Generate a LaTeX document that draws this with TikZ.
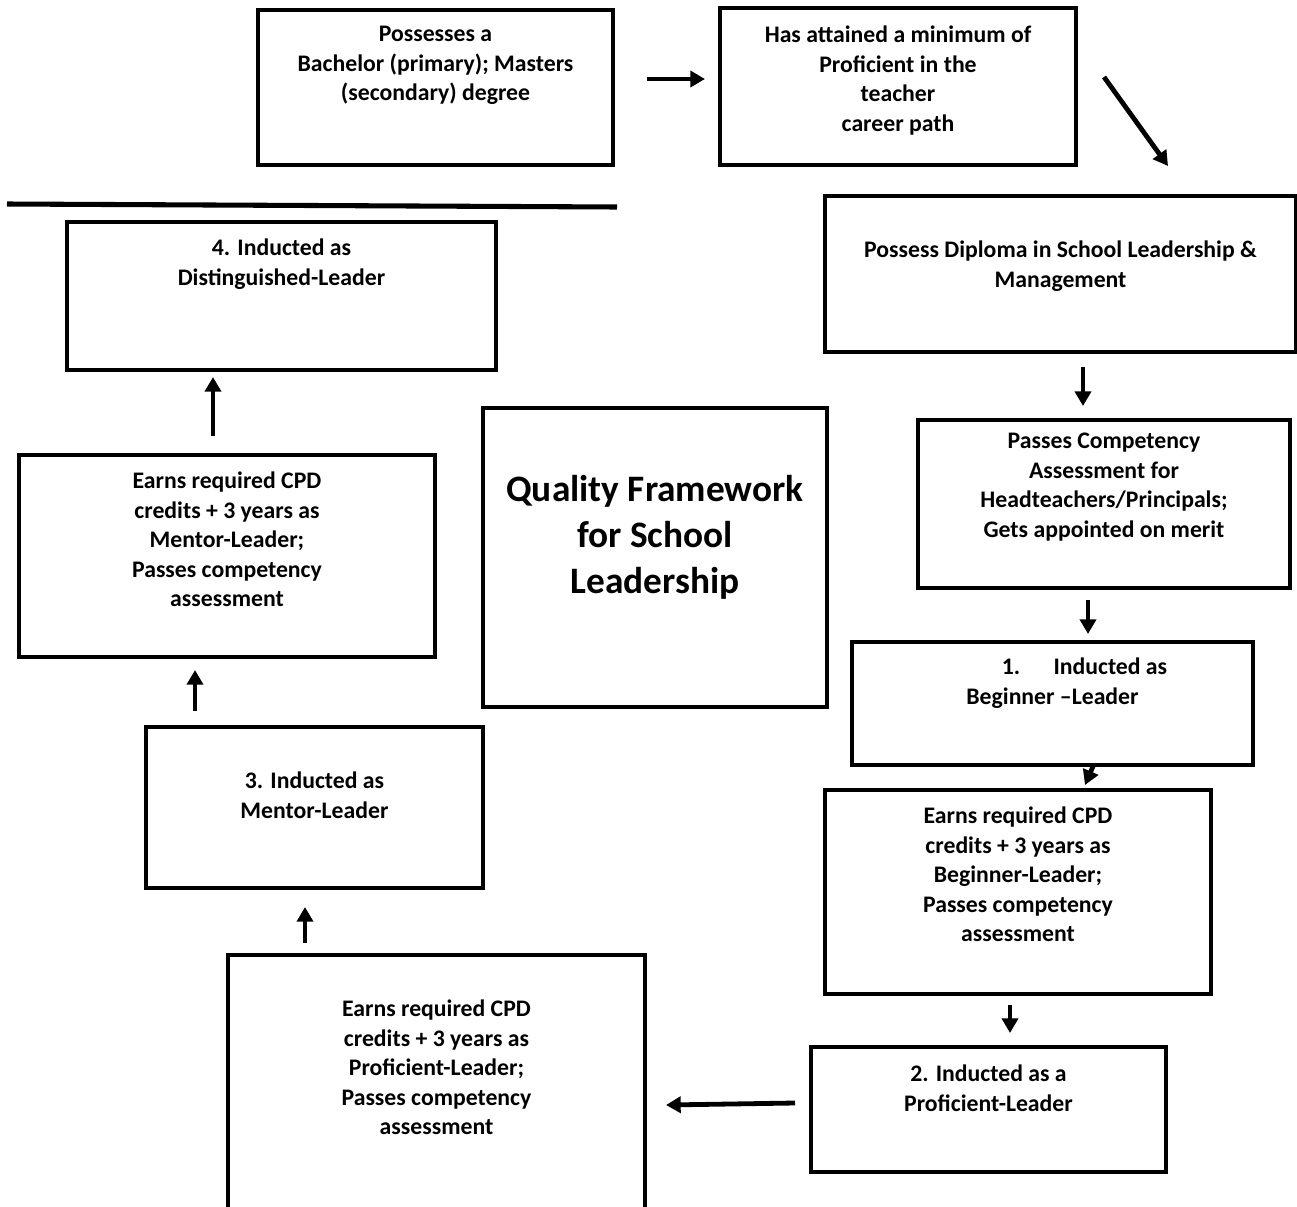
\documentclass[tikz,border=0pt]{standalone}
\usepackage{fontspec}
\setmainfont{Carlito}
\usetikzlibrary{arrows.meta,positioning,fit,calc}

\begin{document}
\begin{tikzpicture}[
    x=0.75pt, y=-0.75pt,
    box/.style={draw, line width=3pt, inner sep=0pt},
    txt/.style={anchor=north, align=center, inner sep=0pt,
      font={\fontsize{17.8}{22.1}\selectfont\bfseries}},
    ttl/.style={align=center, inner sep=0pt,
      font={\fontsize{28}{34.5}\selectfont\bfseries}},
    arr/.style={-{Triangle[length=11pt,width=12pt]}, line width=3.6pt}
  ]
    \useasboundingbox (0,0) rectangle (1297,1207);

    % boxes
    \node[box, fit={(258,10) (613,165)}] (bach) {};
    \node[box, fit={(720,8) (1076,165)}] (prof) {};
    \node[box, fit={(825,196) (1296,352)}] (diplo) {};
    \node[box, fit={(918,420) (1290,588)}] (comp) {};
    \node[box, fit={(852,642) (1253,765)}] (beg) {};
    \node[box, fit={(825,790) (1211,994)}] (earnB) {};
    \node[box, fit={(811,1047) (1166,1172)}] (prl) {};
    \node[box, fit={(228,955) (645,1212)}] (earnP) {};
    \node[box, fit={(146,727) (483,888)}] (men) {};
    \node[box, fit={(19,455) (435,657)}] (earnM) {};
    \node[box, fit={(67,222) (496,370)}] (dist) {};
    \node[box, fit={(483,408) (827,707)}] (qual) {};

    % texts
    \node[txt] (bach-t) at ($(bach.north)+(0,18)$) {Possesses a\\Bachelor (primary); Masters\\(secondary) degree};
    \node[txt] (prof-t) at ($(prof.north)+(0,20)$) {Has attained a minimum of\\Proficient in the\\teacher\\career path};
    \node[txt] (diplo-t) at ($(diplo.north)+(0,47)$) {Possess Diploma in School Leadership \&\\Management};
    \node[txt] (comp-t) at ($(comp.north)+(0,15)$) {Passes Competency\\Assessment for\\Headteachers/Principals;\\Gets appointed on merit};
    \node[txt] (beg-t) at ($(beg.north)+(0,18)$) {\hspace*{2.7em}1.\hspace{1.4em}Inducted as\\Beginner --Leader};
    \node[txt] (earnB-t) at ($(earnB.north)+(0,19)$) {Earns required CPD\\credits + 3 years as\\Beginner-Leader;\\Passes competency\\assessment};
    \node[txt] (prl-t) at ($(prl.north)+(0,20)$) {2. Inducted as a\\Proficient-Leader};
    \node[txt] (earnP-t) at ($(earnP.north)+(0,47)$) {Earns required CPD\\credits + 3 years as\\Proficient-Leader;\\Passes competency\\assessment};
    \node[txt] (men-t) at ($(men.north)+(0,47)$) {3. Inducted as\\Mentor-Leader};
    \node[txt] (earnM-t) at ($(earnM.north)+(0,19)$) {Earns required CPD\\credits + 3 years as\\Mentor-Leader;\\Passes competency\\assessment};
    \node[txt] (dist-t) at ($(dist.north)+(0,19)$) {4. Inducted as\\Distinguished-Leader};
    \node[ttl] (qual-t) at (655,537) {Quality Framework\\for School\\Leadership};

    % rule under the top row
    \coordinate (ruleL) at (7,204);
    \coordinate (ruleR) at (617,207);
    \draw[line width=3.8pt] (ruleL) -- (ruleR);

    % arrows
    \draw[arr] ($(bach.east)+(32,-8.5)$) -- ($(prof.west)+(-13,-7.5)$);
    \draw[arr] ($(prof.east)+(26,-9.5)$) -- ($(diplo.north)+(107.5,-28)$);
    \draw[arr] ($(diplo.south)+(22.5,13)$) -- ($(comp.north)+(-21,-12)$);
    \draw[arr] ($(comp.south)+(-16,10)$) -- ($(beg.north)+(35.5,-6)$);
    \draw[arr] ($(beg.south)+(41.5,-3)$) -- ($(earnB.north)+(67,-3)$);
    \draw[arr] ($(earnB.south)+(-8,9)$) -- ($(prl.north)+(21.5,-12)$);
    \draw[arr] ($(prl.west)+(-14,-6.5)$) -- ($(earnP.east)+(19,21.5)$);
    \draw[arr] ($(earnP.north)+(-131.5,-10)$) -- ($(men.south)+(-9.5,17)$);
    \draw[arr] ($(men.north)+(-119.5,-14)$) -- ($(earnM.south)+(-32,11)$);
    \draw[arr] ($(earnM.north)+(-14,-17)$) -- ($(dist.south)+(-68.5,5)$);
  \end{tikzpicture}
\end{document}
